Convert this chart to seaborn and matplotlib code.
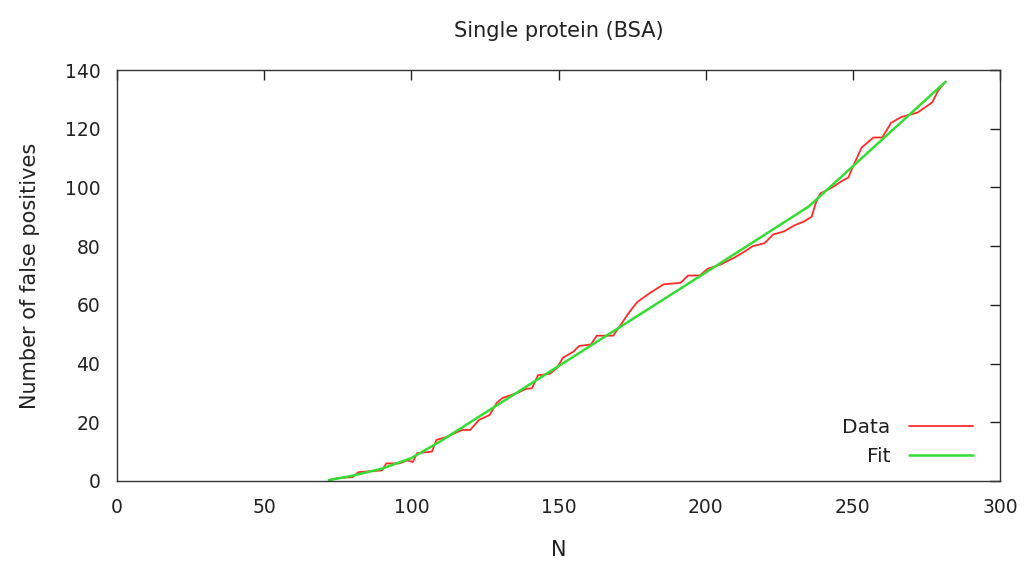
import matplotlib
matplotlib.use("Agg")
import matplotlib.pyplot as plt
import seaborn as sns
import pandas as pd

# ---- data ----
data_n = [72, 75, 80, 82, 90, 91.5, 96, 98.6, 100.5, 102, 107, 108.5, 112, 115,
          117.4, 120, 123, 126.6, 129, 131, 136, 139, 141, 143, 147, 149.5, 151.5,
          155, 157, 161, 163, 168.6, 171, 174.4, 176.8, 181, 185.7, 191.5, 194,
          198, 200.7, 205, 209.6, 213, 216, 220, 223, 226.6, 230, 233.4, 236,
          237.5, 239, 243, 246, 248.5, 250, 253, 257, 260, 263, 266.5, 272, 277,
          279, 281.5]
data_fp = [0.3, 1, 1.3, 3, 3.6, 6, 6, 7, 6.5, 9.5, 10, 14, 15, 16.4,
           17.4, 17.4, 20.8, 22.5, 26.6, 28.3, 30, 31.4, 31.6, 36, 36.5, 38.5, 42,
           44, 46, 46.5, 49.5, 49.5, 53, 58, 61, 64, 67, 67.5, 70,
           70, 72.3, 73.7, 76, 78, 80, 81, 84, 85, 87, 88.4, 90,
           95, 98, 100, 102, 103.4, 107, 113.6, 117, 117, 122, 124, 125.5, 129,
           133, 136]
fit_n = [72, 80, 90, 100, 110, 120, 160, 200, 235, 281.5]
fit_fp = [0.3, 1.8, 4.2, 7.8, 13.6, 20, 45.5, 71, 93.5, 136]

title = "Single protein (BSA)"
xlabel = "N"
ylabel = "Number of false positives"
xticks = [0, 50, 100, 150, 200, 250, 300]
yticks = [0, 20, 40, 60, 80, 100, 120, 140]

df_data = pd.DataFrame({"N": data_n, "FP": data_fp})
df_fit = pd.DataFrame({"N": fit_n, "FP": fit_fp})

sns.set_style("white")
plt.rcParams["font.family"] = ["DejaVu Sans"]

fig = plt.figure(figsize=(10.24, 5.63), dpi=100)
ax = fig.add_axes([117 / 1024, 1 - 481 / 563, 883 / 1024, 411 / 563])

sns.lineplot(data=df_data, x="N", y="FP", ax=ax, color="#ff2a2a", linewidth=1.3,
             label="Data", sort=False, estimator=None)
sns.lineplot(data=df_fit, x="N", y="FP", ax=ax, color="#33dd33", linewidth=1.8,
             label="Fit", sort=False, estimator=None)

ax.set_xlim(0, 300)
ax.set_ylim(0, 140)
ax.set_xticks(xticks)
ax.set_yticks(yticks)
ax.tick_params(direction="in", length=7, width=1, color="#222222",
               top=True, right=True, labelsize=13.5, labelcolor="#222222",
               pad=12)
for s in ax.spines.values():
    s.set_visible(True)
    s.set_color("#333333")
    s.set_linewidth(1.0)

ax.set_title(title, fontsize=15, color="#222222", pad=24)
ax.set_xlabel(xlabel, fontsize=15, color="#222222", labelpad=17)
ax.set_ylabel(ylabel, fontsize=15, color="#222222", labelpad=18)

leg = ax.legend(loc="lower right", bbox_to_anchor=(0.981, 0.012), frameon=False,
                markerfirst=False, borderpad=0, handlelength=3.2,
                handletextpad=0.9, labelspacing=0.5, fontsize=14.5)
for t in leg.get_texts():
    t.set_color("#222222")

fig.savefig("out.png", dpi=100, facecolor="white")
